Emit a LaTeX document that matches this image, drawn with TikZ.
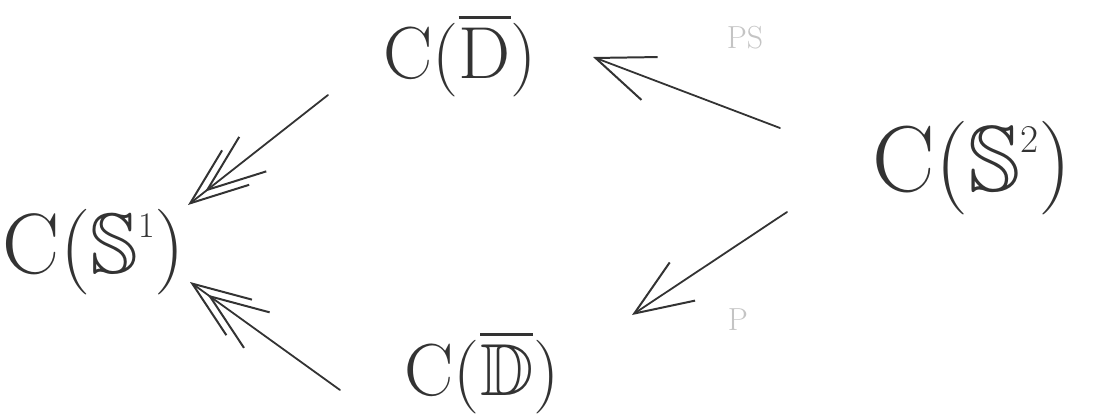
\documentclass[tikz,border=0pt]{standalone}
\usepackage{amsmath,amssymb}
\usetikzlibrary{arrows.meta}
\definecolor{ink}{HTML}{333333}
\definecolor{faint}{HTML}{C4C4C4}
\newcommand{\supr}[1]{\raisebox{0.42em}{\fontsize{0.42\dimexpr\fontdimen6\font\relax}{1}\selectfont #1}}
\tikzset{
  obj/.style={inner sep=0pt, text=ink, font=\fontsize{74}{80}\selectfont},
  big/.style={obj, font=\fontsize{86}{90}\selectfont},
  huge/.style={obj, font=\fontsize{94}{100}\selectfont},
  lab/.style={inner sep=0pt, text=faint, font=\fontsize{32}{36}\selectfont},
  single/.style={draw=ink, line width=1.8pt, line cap=round,
    -{Straight Barb[length=58pt,width=46pt,line width=2pt]}},
  dbl/.style={draw=ink, line width=1.8pt, line cap=round,
    -{Straight Barb[length=58pt,width=44pt,line width=2pt,sep=-40pt]Straight Barb[length=58pt,width=44pt,line width=2pt]}},
}
\begin{document}
\begin{tikzpicture}[x=1bp,y=-1bp]
\useasboundingbox (0,0) rectangle (1098,414);
\node[obj] (D) at (460,55) {C($\overline{\text{D}}$)};
\node[big] (S1) at (94,252) {C($\mathbb{S}$\supr{1})};
\node[huge] (S2) at (972,168) {C($\mathbb{S}$\supr{2})};
\node[obj] (DD) at (482,372) {C($\overline{\mathbb{D}}$)};
\coordinate (a1) at (328,95);  \coordinate (b1) at (188,205);
\coordinate (a2) at (340,390); \coordinate (b2) at (190,282);
\coordinate (a3) at (780,128); \coordinate (b3) at (593,57);
\coordinate (a4) at (787,212); \coordinate (b4) at (632,315);
\draw[dbl] (a1) -- (b1);
\draw[dbl] (a2) -- (b2);
\draw[single] (a3) -- (b3);
\draw[single] (a4) -- (b4);
\node[lab] (l1) at (745,38) {PS};
\node[lab] (l2) at (738,320) {P};
\end{tikzpicture}
\end{document}
